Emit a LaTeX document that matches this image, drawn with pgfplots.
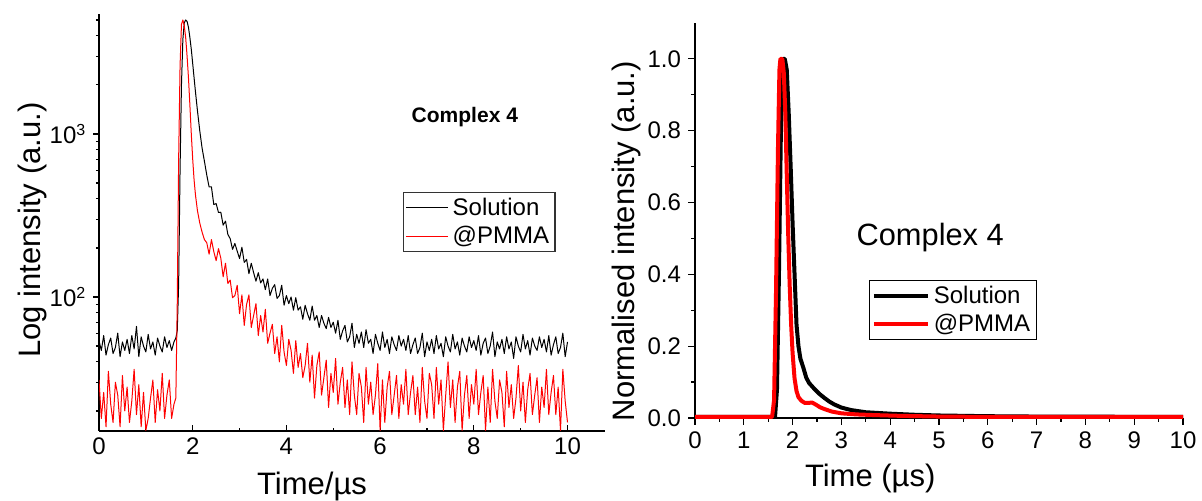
\documentclass[border=0pt]{standalone}
\usepackage{fontspec}
\setmainfont{Liberation Sans}
\usepackage{pgfplots}
\usepackage{pgfplotstable}
\pgfplotsset{compat=1.18}

% left panel: raw decay traces (log scale)
\pgfplotstableread{
t sol pmma
0.00 54 31
0.05 47 18
0.10 58 26
0.15 44 16
0.20 51 35
0.25 56 22
0.30 45 17
0.35 49 30
0.40 60 25
0.45 43 16
0.50 53 33
0.55 47 20
0.60 55 28
0.65 45 17
0.70 58 23
0.75 48 36
0.80 66 19
0.85 43 29
0.90 57 16
0.95 50 26
1.00 46 15.2
1.05 59 18
1.10 48 24
1.15 53 31
1.20 44 17
1.25 56 27
1.30 50 20
1.35 46 34
1.40 57 18
1.45 49 25
1.50 54 31
1.55 47 18
1.60 53 22
1.64 56 24
1.67 62 90
1.70 120 700
1.73 600 2600
1.76 2000 4700
1.79 3800 5000
1.82 4800 4600
1.85 5000 3900
1.88 4900 3000
1.91 4500 2200
1.94 3900 1500
1.97 3300 1000
2.00 2700 700
2.03 2200 520
2.06 1800 420
2.10 1400 340
2.15 1050 285
2.20 820 250
2.25 680 225
2.30 560 215
2.35 473 183
2.40 473 225
2.45 369 190
2.50 374 167
2.55 330 198
2.60 331 173
2.65 276 133
2.70 292 161
2.75 242 121
2.80 228 127
2.85 196 99
2.90 213 102
2.95 191 118
3.00 172 79
3.05 202 103
3.10 163 67
3.15 170 90
3.20 139 103
3.25 161 65
3.30 141 77
3.35 125 91
3.40 141 58
3.45 122 77
3.50 129 61
3.55 111 84
3.60 129 52
3.65 102 60
3.70 113 68
3.75 119 45
3.80 98 57
3.85 102 40
3.90 118 67
3.95 89 46
4.00 102 38
4.05 91 55
4.10 100 47
4.15 83 34
4.20 99 54
4.25 83 37
4.30 87 45
4.35 73 32
4.40 89 38
4.45 79 52
4.50 72 30
4.55 88 44
4.60 72 24
4.65 77 38
4.70 65 46
4.75 77 25
4.80 69 32
4.85 64 41
4.90 75 21
4.95 65 34
5.00 70 26
5.05 60 42
5.10 72 22
5.15 55 30
5.20 62 37
5.25 67 21
5.30 53 31
5.35 57 19
5.40 69 40
5.45 49 25
5.50 59 19
5.55 52 34
5.60 61 28
5.65 49 17
5.70 63 37
5.75 52 22
5.80 55 30
5.85 45 19
5.90 59 25
5.95 52 39
6.00 47 15.2
6.05 61 31
6.10 49 17
6.15 55 28
6.20 45 35
6.25 57 19
6.30 51 25
6.35 47 33
6.40 58 18
6.45 50 29
6.50 55 22
6.55 47 36
6.60 58 19
6.65 45 26
6.70 51 33
6.75 56 19
6.80 45 28
6.85 49 17
6.90 60 37
6.95 43 23
7.00 53 18
7.05 47 34
7.10 55 29
7.15 45 18
7.20 58 37
7.25 48 22
7.30 52 31
7.35 43 15.2
7.40 57 25
7.45 50 40
7.50 46 21
7.55 59 31
7.60 48 17
7.65 53 28
7.70 44 35
7.75 56 15.2
7.80 50 25
7.85 46 33
7.90 57 18
7.95 49 29
8.00 54 22
8.05 47 36
8.10 58 19
8.15 44 26
8.20 52 33
8.25 56 15.2
8.30 45 28
8.35 50 17
8.40 61 36
8.45 43 23
8.50 53 18
8.55 48 31
8.60 55 26
8.65 45 16
8.70 57 35
8.75 48 21
8.80 53 29
8.85 42 18
8.90 57 24
8.95 50 38
9.00 46 20
9.05 59 30
9.10 48 17
9.15 54 27
9.20 44 34
9.25 56 19
9.30 50 25
9.35 47 32
9.40 57 17
9.45 49 28
9.50 55 21
9.55 46 36
9.60 58 19
9.65 44 26
9.70 51 33
9.75 57 19
9.80 45 28
9.85 49 15.2
9.90 60 36
9.95 43 23
10.00 53 17
}\logdata

% right panel: normalised traces
\pgfplotstableread{
t y
0 0.003
1.60 0.003
1.64 0.003
1.68 0.08
1.72 0.40
1.76 0.80
1.79 0.98
1.81 1.0
1.84 1.0
1.88 0.97
1.92 0.85
1.96 0.70
2.00 0.54
2.04 0.40
2.08 0.26
2.12 0.20
2.16 0.165
2.22 0.14
2.28 0.112
2.34 0.097
2.40 0.088
2.46 0.079
2.55 0.067
2.65 0.056
2.75 0.046
2.85 0.038
3.0 0.029
3.2 0.022
3.5 0.016
4.0 0.012
4.5 0.009
5.0 0.007
5.5 0.006
6.0 0.005
7.0 0.004
10 0.003
}\normsol

\pgfplotstableread{
t y
0 0.003
1.58 0.003
1.62 0.05
1.66 0.35
1.70 0.75
1.73 0.97
1.75 1.0
1.79 1.0
1.82 0.96
1.85 0.85
1.88 0.68
1.91 0.51
1.94 0.37
1.97 0.26
2.00 0.18
2.04 0.11
2.08 0.075
2.12 0.058
2.18 0.048
2.25 0.042
2.32 0.042
2.40 0.043
2.48 0.037
2.56 0.030
2.65 0.025
2.80 0.018
3.0 0.013
3.3 0.010
3.7 0.008
4.2 0.006
5.0 0.004
6.0 0.003
10 0.003
}\normpmma

\begin{document}
\begin{tikzpicture}
\useasboundingbox (0,0) rectangle (601pt,250.5pt);

\begin{axis}[
    at={(49.5pt,35pt)}, anchor=south west,
    scale only axis, width=253pt, height=208.5pt,
    ymode=log,
    xmin=0, xmax=10.8, ymin=15.07, ymax=5440,
    axis x line*=bottom, axis y line*=left,
    axis line style={-, line width=0.6pt},
    xtick={0,2,4,6,8,10}, minor xtick={1,3,5,7,9},
    ytick={100,1000}, yticklabels={10\textsuperscript{2},10\textsuperscript{3}},
    minor ytick={20,30,40,50,60,70,80,90,200,300,400,500,600,700,800,900,2000,3000,4000,5000},
    xtick align=inside, ytick align=outside,
    major tick length=2.8pt, minor tick length=1.6pt,
    every tick/.style={black, line width=0.6pt},
    tick label style={font=\fontsize{12}{14}\selectfont},
    /pgf/number format/assume math mode=true,
    xlabel={Time/µs}, ylabel={Log intensity (a.u.)},
    label style={font=\fontsize{15.5}{18}\selectfont},
    xlabel style={at={(rel axis cs:0.421,-0.134)}, anchor=center},
    ylabel style={at={(rel axis cs:-0.132,0.482)}, anchor=center},
    legend style={at={(rel axis cs:0.601,0.573)}, anchor=north west,
        draw=black!80, line width=0.6pt, inner xsep=1pt, inner ysep=0.5pt,
        font=\fontsize{12}{13.5}\selectfont, cells={anchor=west}},
    legend image code/.code={\draw[#1] (0pt,0pt) -- (21pt,0pt);},
]
\addplot[black, line width=0.5pt, line join=round] table[x=t, y=sol] {\logdata};
\addlegendentry{Solution}
\addplot[red, line width=0.5pt, line join=round] table[x=t, y=pmma] {\logdata};
\addlegendentry{@PMMA}
\node[font=\bfseries\fontsize{10.5}{12}\selectfont] at (rel axis cs:0.723,0.753) {Complex 4};
\end{axis}

\begin{axis}[
    at={(347.5pt,41.5pt)}, anchor=south west,
    scale only axis, width=244pt, height=197.5pt,
    xmin=0, xmax=10, ymin=0, ymax=1.1,
    clip=false,
    axis x line*=bottom, axis y line*=left,
    axis line style={-, line width=0.6pt},
    xtick={0,1,...,10}, minor x tick num=1,
    ytick={0,0.2,0.4,0.6,0.8,1.0}, minor y tick num=1,
    tick align=outside,
    major tick length=3.5pt, minor tick length=2pt,
    every tick/.style={black, line width=0.6pt},
    tick label style={font=\fontsize{12}{14}\selectfont},
    /pgf/number format/assume math mode=true,
    yticklabel style={/pgf/number format/.cd, fixed, fixed zerofill, precision=1},
    xlabel={Time (µs)}, ylabel={Normalised intensity (a.u.)},
    label style={font=\fontsize{15.5}{18}\selectfont},
    xlabel style={at={(rel axis cs:0.359,-0.154)}, anchor=center},
    ylabel style={at={(rel axis cs:-0.141,0.448)}, anchor=center},
    legend style={at={(rel axis cs:0.357,0.349)}, anchor=north west,
        draw=black, line width=0.6pt, inner xsep=1pt, inner ysep=0.5pt,
        font=\fontsize{12}{13.5}\selectfont, cells={anchor=west}},
    legend image code/.code={\draw[#1] (0pt,0pt) -- (27pt,0pt);},
]
\addplot[black, line width=2pt, line join=round] table[x=t, y=y] {\normsol};
\addlegendentry{Solution}
\addplot[red, line width=2pt, line join=round] table[x=t, y=y] {\normpmma};
\addlegendentry{@PMMA}
\node[font=\fontsize{15.4}{18}\selectfont] at (rel axis cs:0.482,0.456) {Complex 4};
\end{axis}
\end{tikzpicture}
\end{document}
